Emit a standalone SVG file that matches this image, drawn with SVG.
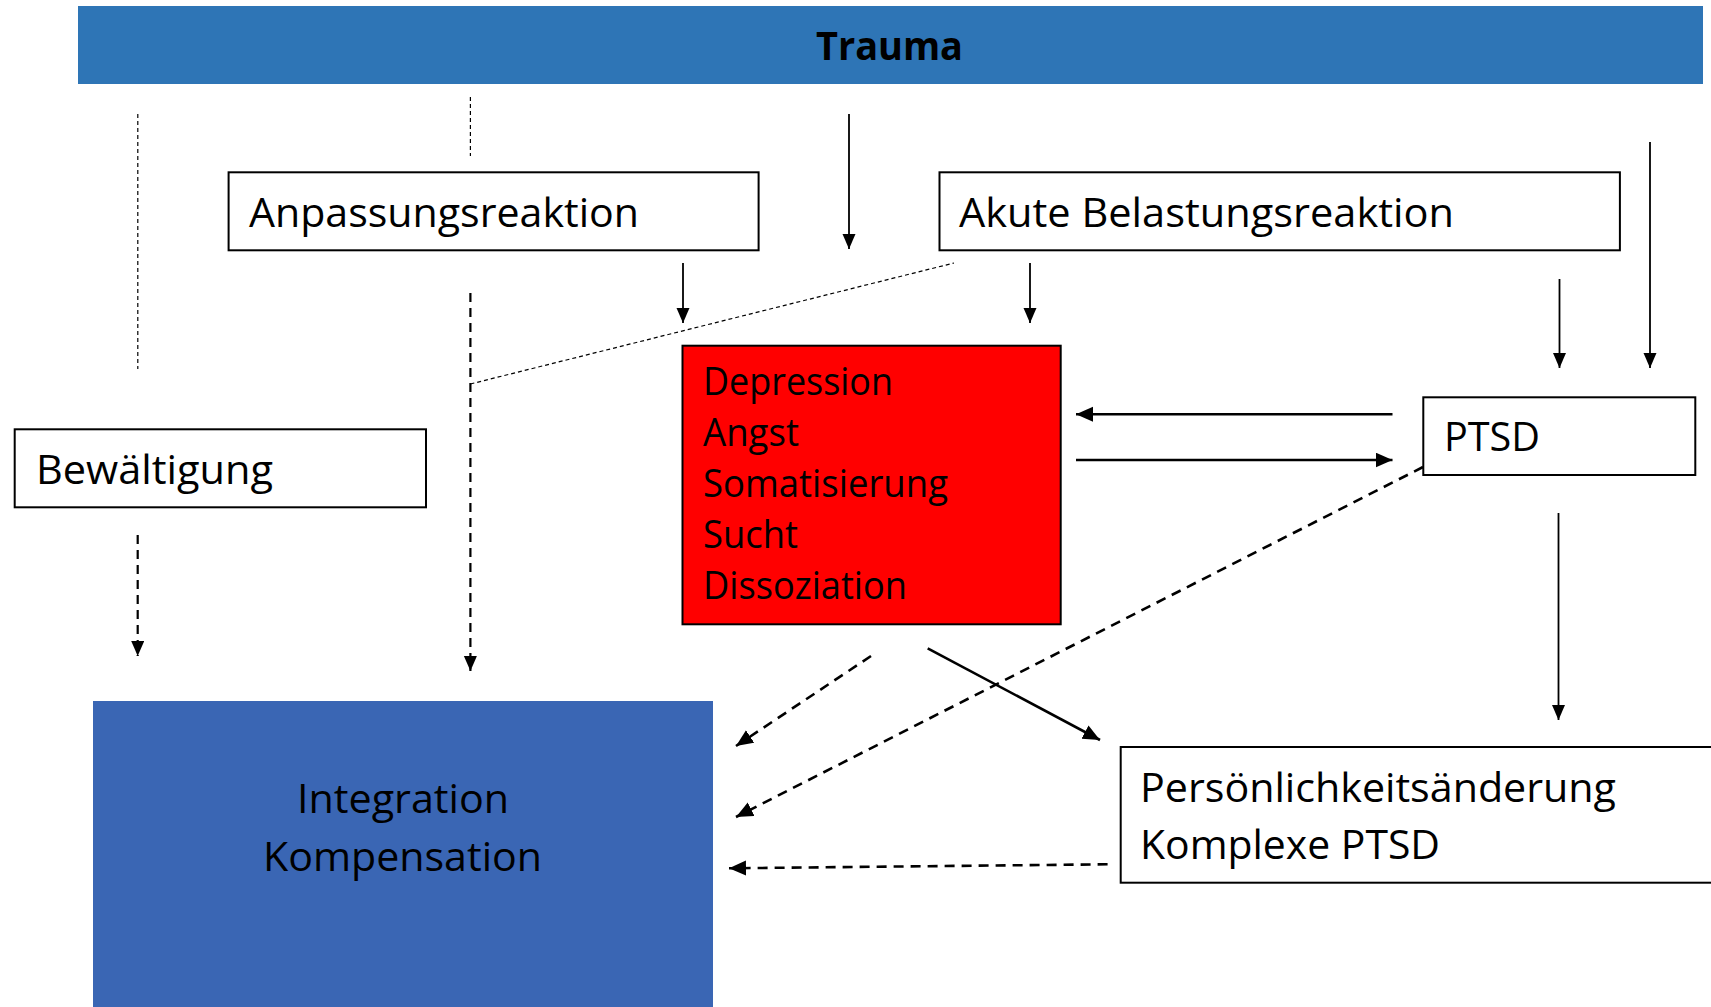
<svg xmlns="http://www.w3.org/2000/svg" width="1711" height="1007" viewBox="0 0 1711 1007">
<defs>
<style>
.lbl{font-family:"Open Sans","Liberation Sans",sans-serif;font-size:40px;fill:#000;}
.red{font-size:38px;}
.box{fill:#fff;stroke:#000;stroke-width:2;}
.c{fill:none;stroke:#000;}
.solid{stroke-width:1.8;}
.thick{stroke-width:2.6;}
.fine{stroke-width:1.2;stroke-dasharray:4 3;}
.med{stroke-width:2.2;stroke-dasharray:9 6;}
.dash{stroke-width:2.6;stroke-dasharray:10 7;}
</style>
<marker id="ah" markerUnits="userSpaceOnUse" markerWidth="16" markerHeight="14" refX="15" refY="6.5" orient="auto">
<path d="M0,0 L15,6.5 L0,13 z" fill="#000"/>
</marker>
<marker id="ahb" markerUnits="userSpaceOnUse" markerWidth="18" markerHeight="16" refX="17" refY="7.5" orient="auto">
<path d="M0,0 L17,7.5 L0,15 z" fill="#000"/>
</marker>
</defs>

<g id="trauma">
<rect x="78" y="6" width="1625" height="78" fill="#2E75B6"/>
<text class="lbl" x="816" y="59.5" style="font-weight:bold;font-size:38.5px" textLength="147" lengthAdjust="spacingAndGlyphs">Trauma</text>
</g>

<g id="anpassung">
<rect class="box" x="228.6" y="172.3" width="530" height="78"/>
<text class="lbl" x="249" y="227" textLength="390" lengthAdjust="spacingAndGlyphs">Anpassungsreaktion</text>
</g>

<g id="akute">
<rect class="box" x="939.5" y="172.3" width="680.4" height="78"/>
<text class="lbl" x="959" y="227" textLength="495" lengthAdjust="spacingAndGlyphs">Akute Belastungsreaktion</text>
</g>

<g id="bewaeltigung">
<rect class="box" x="14.7" y="429.3" width="411.3" height="78"/>
<text class="lbl" x="36" y="483.5" textLength="237" lengthAdjust="spacingAndGlyphs">Bewältigung</text>
</g>

<g id="stoerungen">
<rect x="682.5" y="345.7" width="378.2" height="278.6" fill="#FF0000" stroke="#000" stroke-width="2"/>
<text class="lbl red" x="703" y="395" textLength="190" lengthAdjust="spacingAndGlyphs">Depression</text>
<text class="lbl red" x="703" y="446" textLength="96" lengthAdjust="spacingAndGlyphs">Angst</text>
<text class="lbl red" x="703" y="497" textLength="245" lengthAdjust="spacingAndGlyphs">Somatisierung</text>
<text class="lbl red" x="703" y="548" textLength="95" lengthAdjust="spacingAndGlyphs">Sucht</text>
<text class="lbl red" x="703" y="599" textLength="204" lengthAdjust="spacingAndGlyphs">Dissoziation</text>
</g>

<g id="ptsd">
<rect class="box" x="1423.3" y="397.3" width="272" height="77.7"/>
<text class="lbl" x="1444" y="451" textLength="96" lengthAdjust="spacingAndGlyphs">PTSD</text>
</g>

<g id="integration">
<rect x="93" y="701" width="620" height="320" fill="#3A66B4"/>
<text class="lbl" x="297" y="813" textLength="212" lengthAdjust="spacingAndGlyphs">Integration</text>
<text class="lbl" x="263" y="871" textLength="279" lengthAdjust="spacingAndGlyphs">Kompensation</text>
</g>

<g id="persoenlichkeit">
<rect class="box" x="1120.7" y="747" width="620" height="135.7"/>
<text class="lbl" x="1140" y="802" textLength="476" lengthAdjust="spacingAndGlyphs">Persönlichkeitsänderung</text>
<text class="lbl" x="1140" y="859" textLength="300" lengthAdjust="spacingAndGlyphs">Komplexe PTSD</text>
</g>

<g id="connectors">
<line class="c solid" x1="849" y1="114" x2="849" y2="249" marker-end="url(#ah)"/>
<line class="c solid" x1="683" y1="263" x2="683" y2="323" marker-end="url(#ah)"/>
<line class="c solid" x1="1030" y1="263" x2="1030" y2="323" marker-end="url(#ah)"/>
<line class="c solid" x1="1559.5" y1="279" x2="1559.5" y2="368" marker-end="url(#ah)"/>
<line class="c solid" x1="1650" y1="142" x2="1650" y2="368" marker-end="url(#ah)"/>
<line class="c thick" x1="1392.5" y1="414.3" x2="1076" y2="414.3" marker-end="url(#ahb)"/>
<line class="c thick" x1="1076" y1="460" x2="1392.5" y2="460" marker-end="url(#ahb)"/>
<line class="c solid" x1="1558.5" y1="513" x2="1558.5" y2="720" marker-end="url(#ah)"/>
<line class="c thick" x1="927.7" y1="648.3" x2="1100" y2="740" marker-end="url(#ahb)"/>
<line class="c dash" x1="871" y1="656" x2="736" y2="746" marker-end="url(#ahb)"/>
<line class="c dash" x1="1423" y1="467" x2="736" y2="817" marker-end="url(#ahb)"/>
<line class="c dash" x1="1107.6" y1="864.3" x2="729" y2="868.3" marker-end="url(#ahb)"/>
<line class="c fine" x1="137.8" y1="114" x2="137.8" y2="369"/>
<line class="c fine" x1="470.4" y1="97" x2="470.4" y2="156"/>
<line class="c fine" x1="470.4" y1="384" x2="954" y2="263"/>
<line class="c med" x1="470.4" y1="293" x2="470.4" y2="671" marker-end="url(#ah)"/>
<line class="c med" x1="137.7" y1="535" x2="137.7" y2="656" marker-end="url(#ah)"/>
</g>
</svg>
